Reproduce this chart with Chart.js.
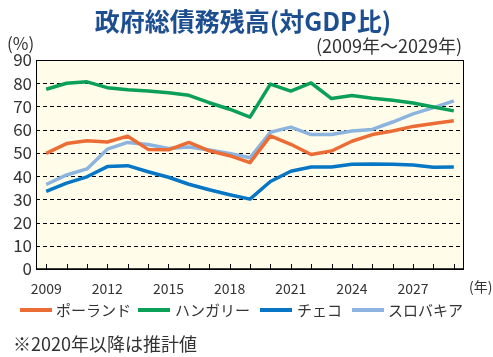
<!DOCTYPE html>
<html><head><meta charset="utf-8">
<script src="https://cdn.jsdelivr.net/npm/chart.js@4"></script>
<style>html,body{margin:0;padding:0;background:#fff;}#wrap{width:493px;height:357px;position:relative;}</style>
</head><body><div id="wrap"><canvas id="c" width="493" height="357"></canvas></div>
<script>
const years = ['2009','2010','2011','2012','2013','2014','2015','2016','2017','2018','2019','2020','2021','2022','2023','2024','2025','2026','2027','2028','2029'];
const seriesNames = ['ポーランド','ハンガリー','チェコ','スロバキア'];
const poland   = [49.8,54.0,55.2,54.7,57.2,51.5,51.3,54.5,50.9,48.8,45.8,57.3,53.7,49.3,50.8,55.0,57.9,59.4,61.4,62.7,63.8];
const hungary  = [77.4,80.0,80.6,78.1,77.2,76.7,75.9,74.8,71.6,68.8,65.4,79.6,76.6,80.1,73.4,74.7,73.5,72.7,71.5,69.8,68.1];
const czech    = [33.4,37.0,39.7,44.1,44.5,41.9,39.5,36.5,34.1,32.0,30.1,37.7,42.1,43.9,43.9,45.1,45.2,45.1,44.8,43.8,43.9];
const slovakia = [36.4,40.5,43.1,51.6,54.5,53.6,51.9,52.5,51.2,49.8,47.9,58.9,61.1,57.9,57.9,59.4,60.1,63.3,66.8,69.5,72.4];
const yTicks = [0,10,20,30,40,50,60,70,80,90];
const colors = ['#EC6C35','#0BA057','#0776C4','#8CB4DF'];
const FONT = '"Noto Sans CJK JP", "Noto Sans", sans-serif';

const deco = {
  id:'deco',
  beforeDatasetsDraw(chart){
    const {ctx, chartArea:a, scales} = chart;
    ctx.save();
    ctx.fillStyle = '#FFFDEA';
    ctx.fillRect(a.left, a.top, a.right-a.left, a.bottom-a.top);
    ctx.strokeStyle = '#000'; ctx.lineWidth = 1; ctx.setLineDash([4,3]);
    yTicks.forEach(v=>{
      if (v===0 || v===90) return;
      const y = Math.round(scales.y.getPixelForValue(v))+0.5;
      ctx.beginPath(); ctx.moveTo(a.left, y); ctx.lineTo(a.right, y); ctx.stroke();
    });
    ctx.restore();
  },
  afterDraw(chart){
    const {ctx, chartArea:a, scales} = chart;
    ctx.save();
    ctx.strokeStyle = '#000'; ctx.lineWidth = 1;
    ctx.strokeRect(a.left+0.5, a.top+0.5, a.right-a.left-1, a.bottom-a.top);
    ctx.lineWidth = 1.5;
    ctx.beginPath(); ctx.moveTo(a.left, a.bottom); ctx.lineTo(a.right, a.bottom); ctx.stroke();
    ctx.lineWidth = 1;
    years.forEach((y,i)=>{
      const x = Math.round(scales.x.getPixelForValue(i))+0.5;
      ctx.beginPath(); ctx.moveTo(x, a.bottom); ctx.lineTo(x, a.bottom-5); ctx.stroke();
    });
    ctx.fillStyle = '#1D4E8F';
    ctx.font = 'bold 25px ' + FONT;
    ctx.textAlign = 'center'; ctx.textBaseline = 'middle';
    ctx.fillText('政府総債務残高(対GDP比)', 243, 21);
    ctx.fillStyle = '#333';
    ctx.font = '17px ' + FONT;
    ctx.textAlign = 'left';
    ctx.fillText('(%)', 7, 44);
    ctx.textAlign = 'right';
    ctx.font = '18px ' + FONT;
    ctx.fillText('(2009年～2029年)', 462, 46);
    ctx.font = '14px ' + FONT;
    ctx.textAlign = 'left';
    ctx.fillText('(年)', 469, 287);
    const items = [[20,56],[138,175],[260,297],[352,388]];
    chart.data.datasets.forEach((ds,i)=>{
      const [lx, tx] = items[i];
      ctx.strokeStyle = ds.borderColor; ctx.lineWidth = 4;
      ctx.beginPath(); ctx.moveTo(lx, 310); ctx.lineTo(lx+32, 310); ctx.stroke();
      ctx.fillStyle = '#333'; ctx.font = '15px ' + FONT;
      ctx.textAlign = 'left';
      ctx.fillText(ds.label, tx, 310);
    });
    ctx.font = '18px ' + FONT;
    ctx.fillText('※2020年以降は推計値', 13, 344);
    ctx.restore();
  }
};

new Chart(document.getElementById('c'), {
  type:'line',
  data:{
    labels: years,
    datasets:[
      {label:seriesNames[0], data:poland, borderColor:colors[0]},
      {label:seriesNames[1], data:hungary, borderColor:colors[1]},
      {label:seriesNames[2], data:czech, borderColor:colors[2]},
      {label:seriesNames[3], data:slovakia, borderColor:colors[3]}
    ].map(d=>Object.assign(d,{borderWidth:3.5, pointRadius:0, tension:0, fill:false, borderJoinStyle:'round'}))
  },
  options:{
    responsive:false, animation:false,
    layout:{padding:{top:60,left:0,right:29,bottom:0}},
    plugins:{legend:{display:false}, title:{display:false}, tooltip:{enabled:false}},
    scales:{
      x:{
        offset:true,
        grid:{display:false, drawTicks:false},
        border:{display:false},
        afterFit(s){ s.height = 88; },
        ticks:{autoSkip:false, maxRotation:0, padding:11, color:'#333', font:{family:FONT, size:14},
          callback:(v,i)=> (i%3===0 ? years[i] : '')}
      },
      y:{
        min:0, max:90,
        afterFit(s){ s.width = 36; },
        afterBuildTicks(s){ s.ticks = yTicks.map(v=>({value:v})); },
        grid:{display:false, drawTicks:false},
        border:{display:false},
        ticks:{autoSkip:false, padding:4, color:'#333', font:{family:FONT, size:17}}
      }
    }
  },
  plugins:[deco]
});
</script></body></html>
